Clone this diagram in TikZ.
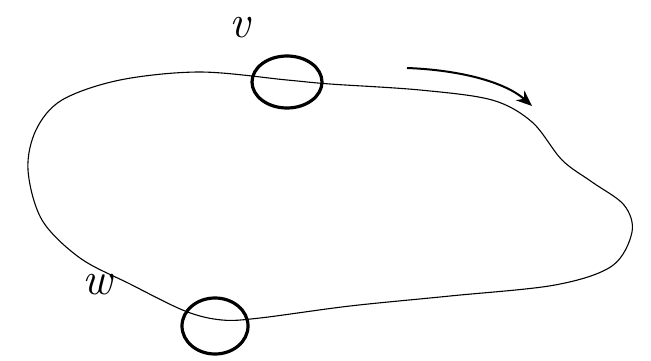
\documentclass[tikz,border=0pt]{standalone}
\usetikzlibrary{shapes.geometric,arrows.meta}
\begin{document}
\begin{tikzpicture}[x=1pt,y=-1pt,
  ring/.style={draw,ellipse,line width=3.2pt,inner sep=0pt},
  loopline/.style={line width=1.1pt},
  lbl/.style={font=\itshape\fontsize{46}{46}\selectfont,inner sep=0pt}]
\useasboundingbox (0,0) rectangle (651,361);
\draw[loopline] plot[smooth cycle,tension=0.55] coordinates {
  (287,80) (200,72) (120,80) (62,100) (36,130) (28,170) (42,220) (80,258)
  (130,284) (185,311) (222,320) (260,318) (350,306) (450,296) (555,285)
  (612,266) (632,232) (624,205) (592,182) (562,160) (532,122) (492,100) (420,90) (330,84)};
\node[ring,minimum width=70pt,minimum height=52pt] (v) at (287,82) {};
\node[ring,minimum width=66pt,minimum height=56pt] (w) at (215,326) {};
\node[lbl] (vl) at (240,28) {v};
\node[lbl] (wl) at (97,285) {w};
\coordinate (a0) at (407,68);
\coordinate (a1) at (532,106);
\draw[line width=2pt,-{Stealth[length=16pt,width=13pt]}] (a0) .. controls (460,70) and (505,82) .. (a1);
\end{tikzpicture}
\end{document}
